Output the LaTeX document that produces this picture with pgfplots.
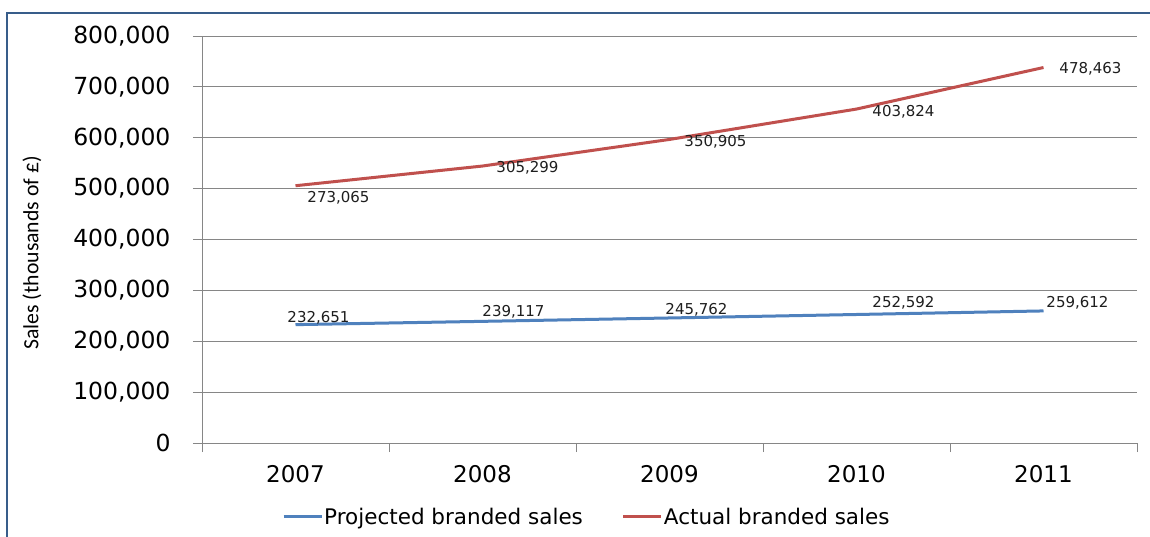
\documentclass[border=0pt]{standalone}
\usepackage{pgfplots}
\pgfplotsset{compat=1.18}
\usepackage{pgfplotstable}
\usepackage{fontspec}
\setmainfont{DejaVu Sans}
\newfontfamily\carlito{Carlito}

\definecolor{projblue}{RGB}{79,129,189}
\definecolor{actred}{RGB}{192,80,77}
\definecolor{gridgray}{RGB}{134,134,134}
\definecolor{frameblue}{RGB}{56,93,138}
\definecolor{labeltext}{RGB}{30,30,30}

% year index, value, printed label, label offset (dx, dy) in pt
\pgfplotstableread{
x v lab dx dy
1 232651 232,651 23 7
2 239117 239,117 31 10
3 245762 245,762 27 8
4 252592 252,592 47 11.5
5 259612 259,612 34 8
}\projected
\pgfplotstableread{
x v lab dx dy
1 273065 273,065 43 -12
2 305299 305,299 45 -2
3 350905 350,905 46 -2
4 403824 403,824 47 -3
5 478463 478,463 47 -1
}\actual

\begin{document}
\begin{tikzpicture}
\useasboundingbox (-202pt,-93pt) rectangle (948pt,443pt);
\fill[white] (-202pt,-93pt) rectangle (948pt,443pt);
\draw[frameblue, line width=2pt] (960pt,430pt) -- (-195pt,430pt) -- (-195pt,-110pt);
\begin{axis}[
  at={(0pt,0pt)}, anchor=south west,
  scale only axis, width=935pt, height=407pt,
  xmin=0.5, xmax=5.5, ymin=0, ymax=800000,
  stack plots=y,
  axis lines=left,
  axis line style={-, draw=gridgray, line width=0.8pt},
  ymajorgrids, major grid style={draw=gridgray, line width=0.8pt},
  tick align=outside,
  major tick length=9pt,
  tick style={draw=gridgray, line width=0.8pt},
  xtick={0.5,1.5,2.5,3.5,4.5,5.5},
  xticklabels={,,,,,},
  extra x ticks={1,2,3,4,5},
  extra x tick labels={2007,2008,2009,2010,2011},
  extra x tick style={major tick length=0pt, grid=none},
  xticklabel style={font=\fontsize{23}{27}\selectfont, yshift=-19pt},
  ytick={0,100000,...,800000},
  scaled y ticks=false,
  yticklabels={0,{100,000},{200,000},{300,000},{400,000},{500,000},{600,000},{700,000},{800,000}},
  yticklabel style={font=\fontsize{23.5}{27}\selectfont, xshift=-19pt},
  ylabel={Sales (thousands of £)},
  every axis y label/.style={at={(axis description cs:-0.1818,0.467)}, rotate=90, anchor=center, font=\carlito\fontsize{21.7}{24}\selectfont},
  point meta=explicit symbolic,
  visualization depends on={\thisrow{dx}\as\dx},
  visualization depends on={\thisrow{dy}\as\dy},
  nodes near coords,
  every node near coord/.append style={anchor=center, xshift=\dx pt, yshift=\dy pt, font=\fontsize{15}{18}\selectfont, text=labeltext},
  legend columns=2,
  legend style={at={(axis description cs:0.0856,-0.1818)}, anchor=west, draw=none, fill=none, inner sep=0pt,
    font=\fontsize{21.5}{25}\selectfont, nodes={inner sep=1pt},
    /tikz/every even column/.append style={column sep=38pt}},
  legend image code/.code={\draw[#1] (0pt,0pt) -- (38pt,0pt);},
]
\addplot[projblue, line width=3pt, line join=round] table[x=x, y=v, meta=lab] {\projected};
\addlegendentry{Projected branded sales}
\addplot[actred, line width=3pt, line join=round] table[x=x, y=v, meta=lab] {\actual};
\addlegendentry{Actual branded sales}
\end{axis}
\end{tikzpicture}
\end{document}
